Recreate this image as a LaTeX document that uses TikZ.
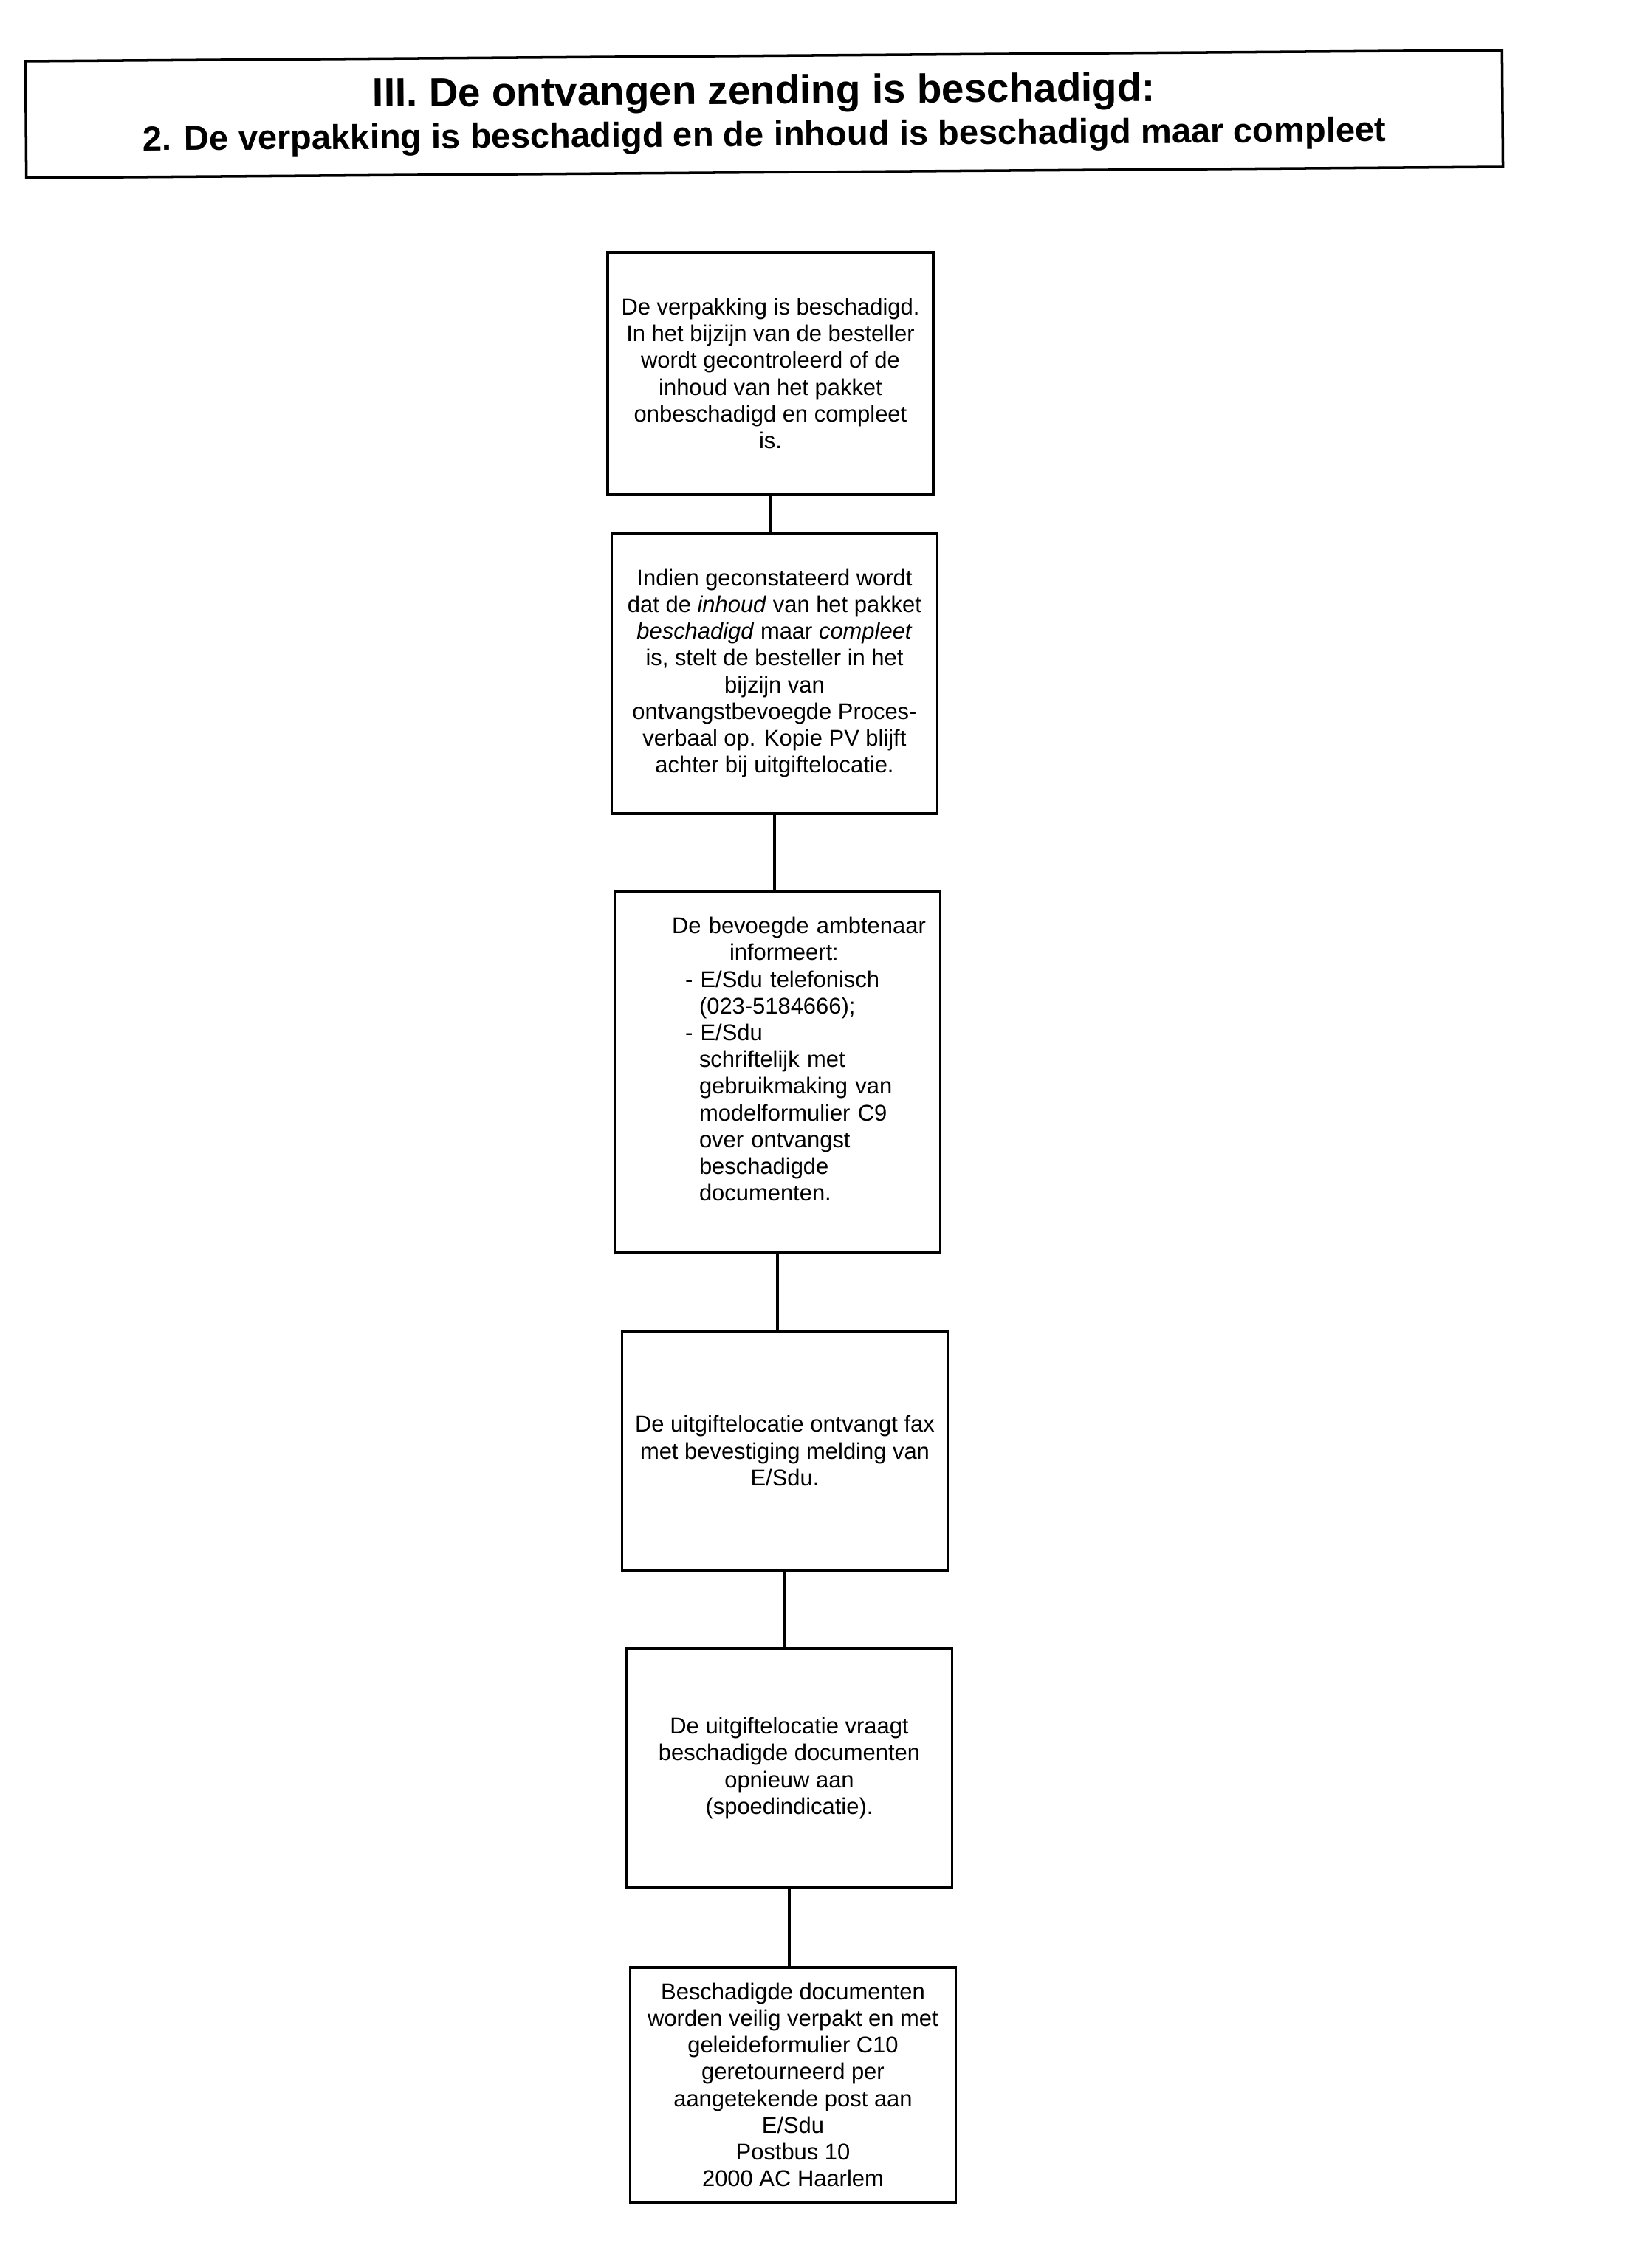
\documentclass[tikz,border=0pt]{standalone}
\usepackage{fontspec}
\setmainfont{Liberation Sans}

\begin{document}
\begin{tikzpicture}
    	[stap/.style={draw, line width=0.9pt, align=center, inner sep=0pt,
    	    minimum width=4.41cm, font={\fontsize{8.8}{10.3}\selectfont}},
    	 lijn/.style={line width=0.9pt}]
    	\useasboundingbox (0,0) rectangle (22.08,-30.72);

    	% kop
    	\node at (10.35,-1.545) [draw, line width=1pt, rotate=0.43, inner sep=0pt,
    	    minimum width=20cm, minimum height=1.58cm, align=center,
    	    font={\fontsize{13.4}{16.2}\selectfont\bfseries}] (kop)
    	    {{\fontsize{15.6}{16.2}\selectfont III. De ontvangen zending is beschadigd:}\\
    	    2. De verpakking is beschadigd en de inhoud is beschadigd maar compleet};

    	% stappen
    	\node at (10.435,-5.06) [stap, minimum height=3.28cm] (verpakking)
    	    {De verpakking is beschadigd.\\ In het bijzijn van de besteller\\
    	    wordt gecontroleerd of de\\ inhoud van het pakket\\
    	    onbeschadigd en compleet\\ is.};
    	\node at (10.49,-9.12) [stap, minimum height=3.80cm] (pv)
    	    {Indien geconstateerd wordt\\ dat de \textit{inhoud} van het pakket\\
    	    \textit{beschadigd} maar \textit{compleet}\\ is, stelt de besteller in het\\
    	    bijzijn van\\ ontvangstbevoegde Proces-\\ verbaal op. Kopie PV blijft\\
    	    achter bij uitgiftelocatie.};
    	\node at (10.53,-14.525) [stap, align=left, text width=4.2cm, inner xsep=0.1cm,
    	    minimum height=4.89cm] (informeren)
    	    {\hspace*{0.67cm}De bevoegde ambtenaar\\ \hspace*{1.45cm}informeert:\\
    	    \hspace*{0.85cm}- E/Sdu telefonisch\\ \hspace*{1.04cm}(023-5184666);\\
    	    \hspace*{0.85cm}- E/Sdu\\ \hspace*{1.04cm}schriftelijk met\\
    	    \hspace*{1.04cm}gebruikmaking van\\ \hspace*{1.04cm}modelformulier C9\\
    	    \hspace*{1.04cm}over ontvangst\\ \hspace*{1.04cm}beschadigde\\
    	    \hspace*{1.04cm}documenten.\\ \mbox{}};
    	\node at (10.63,-19.65) [stap, minimum height=3.24cm] (fax)
    	    {De uitgiftelocatie ontvangt fax\\ met bevestiging melding van\\ E/Sdu.};
    	\node at (10.69,-23.95) [stap, minimum height=3.24cm] (aanvraag)
    	    {De uitgiftelocatie vraagt\\ beschadigde documenten\\ opnieuw aan\\
    	    (spoedindicatie).};
    	\node at (10.74,-28.24) [stap, minimum height=3.18cm] (retour)
    	    {Beschadigde documenten\\ worden veilig verpakt en met\\
    	    geleideformulier C10\\ geretourneerd per\\ aangetekende post aan\\
    	    E/Sdu\\ Postbus 10\\ 2000 AC Haarlem};

    	\draw[lijn] (verpakking.south) -- (verpakking.south |- pv.north);
    	\draw[lijn] (pv.south) -- (pv.south |- informeren.north);
    	\draw[lijn] (informeren.south) -- (informeren.south |- fax.north);
    	\draw[lijn] (fax.south) -- (fax.south |- aanvraag.north);
    	\draw[lijn] (aanvraag.south) -- (aanvraag.south |- retour.north);
\end{tikzpicture}
\end{document}
